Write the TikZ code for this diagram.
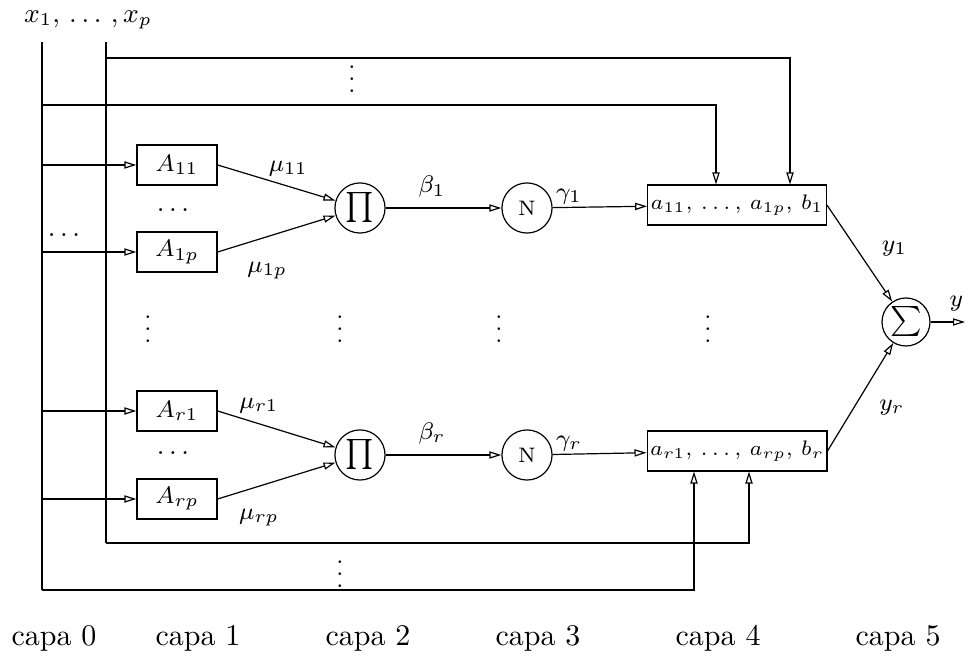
\documentclass[tikz,border=0pt]{standalone}
\usetikzlibrary{arrows.meta,positioning,calc}
\begin{document}
\begin{tikzpicture}[x=0.3333pt,y=-0.3333pt,font=\footnotesize]
\tikzset{arr/.style={-{Triangle[open,length=4pt,width=2.4pt]}},
  fbox/.style={draw,minimum width=26.7pt,minimum height=13.3pt,inner sep=1pt},
  pbox/.style={draw,minimum width=56pt,minimum height=13.3pt,inner sep=1pt,font=\scriptsize},
  op/.style={draw,circle,minimum size=16.7pt,inner sep=0pt},
  dots/.style={inner sep=0pt},
  capa/.style={font=\normalsize}}
\useasboundingbox (0,0) rectangle (968,659);
\node (xin) at (88,20) {\small$x_1,\,\ldots\,,x_p$};
\coordinate (x0top) at (42,42); \coordinate (x0bot) at (42,590);
\coordinate (x1top) at (106,42); \coordinate (x1bot) at (106,543);
% first rule
\node[fbox] (a11) at (177,165) {$A_{11}$};
\node[fbox] (a1p) at (177,252) {$A_{1p}$};
\node[dots] (d11) at (173,210) {\small$\ldots$};
\node[dots] (d0) at (64,235) {\small$\ldots$};
\node[op] (p1) at (360,208) {$\prod$};
\node[op] (n1) at (527,208) {\scriptsize N};
\node[pbox] (b1) at (737,205) {$a_{11},\,\ldots,\,a_{1p},\,b_1$};
% last rule
\node[fbox] (ar1) at (177,411) {$A_{r1}$};
\node[fbox] (arp) at (177,499) {$A_{rp}$};
\node[dots] (dr1) at (173,453) {\small$\ldots$};
\node[op] (pr) at (360,455) {$\prod$};
\node[op] (nr) at (527,455) {\scriptsize N};
\node[pbox] (br) at (737,451) {$a_{r1},\,\ldots,\,a_{rp},\,b_r$};
\node[op,minimum size=16pt] (sig) at (906,322) {$\sum$};
\coordinate (yout) at (965,322);
% vertical dots
\node[dots] (v0) at (352,70) {$\vdots$};
\node[dots] (v1) at (148,320) {$\vdots$};
\node[dots] (v2) at (340,320) {$\vdots$};
\node[dots] (v3) at (499,320) {$\vdots$};
\node[dots] (v4) at (708,320) {$\vdots$};
\node[dots] (v5) at (340,565) {$\vdots$};
% input lines
\coordinate (c1) at (790,58); \coordinate (c2) at (716,105);
\coordinate (c3) at (694,590); \coordinate (c4) at (749,543);
\draw (x0top) -- (x0bot);
\draw (x1top) -- (x1bot);
\draw[arr] (c1 -| x1top) -| (b1.north -| c1);
\draw[arr] (c2 -| x0top) -| (b1.north -| c2);
\draw[arr] (x0bot) -| (br.south -| c3);
\draw[arr] (x1bot) -| (br.south -| c4);
\foreach \n in {a11,a1p,ar1,arp} \draw[arr] (\n -| x0top) -- (\n);
% connections
\draw[arr] (a11.east) -- node[pos=0.6,above]{$\mu_{11}$} (p1);
\draw[arr] (a1p.east) -- node[pos=0.42,below=5pt]{$\mu_{1p}$} (p1);
\draw[arr] (ar1.east) -- node[pos=0.35,above]{$\mu_{r1}$} (pr);
\draw[arr] (arp.east) -- node[pos=0.35,below=4pt]{$\mu_{rp}$} (pr);
\draw[arr] (p1) -- node[pos=0.4,above]{$\beta_1$} (n1);
\draw[arr] (pr) -- node[pos=0.4,above]{$\beta_r$} (nr);
\draw[arr] (n1) -- node[pos=0,above right,inner sep=1pt]{$\gamma_1$} (b1);
\draw[arr] (nr) -- node[pos=0,above right,inner sep=1pt]{$\gamma_r$} (br);
\draw[arr] (b1.east) -- node[pos=0.45,right=5pt]{$y_1$} (sig);
\draw[arr] (br.east) -- node[pos=0.4,right=5pt]{$y_r$} (sig);
\draw[arr] (sig) -- node[pos=0.75,above]{$y$} (yout);
% layers
\foreach \x/\k in {54/0,198/1,368/2,538/3,718/4,898/5}
  \node[capa] (capa\k) at (\x,638) {capa \k};
\end{tikzpicture}
\end{document}
